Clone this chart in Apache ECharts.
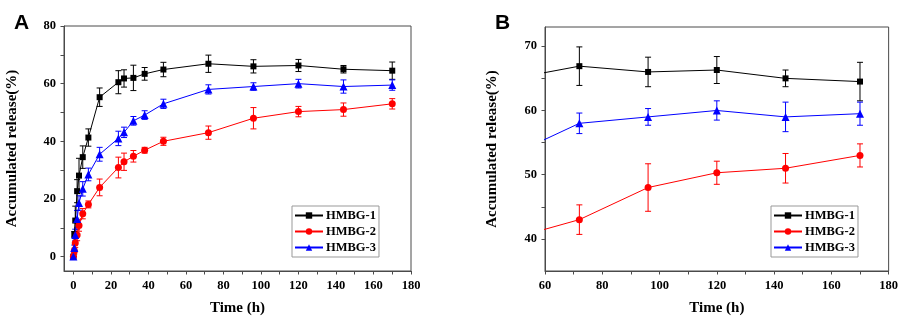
<!DOCTYPE html>
<html>
<head>
<meta charset="utf-8">
<script src="https://cdn.jsdelivr.net/npm/echarts@6/dist/echarts.min.js"></script>
<style>
  html, body { margin: 0; padding: 0; background: #fff; }
  #chart { width: 901px; height: 321px; }
</style>
</head>
<body>
<div id="chart"></div>
<script>
const time = [0, 0.5, 1, 2, 3, 5, 8, 14, 24, 27, 32, 38, 48, 72, 96, 120, 144, 170];
const hmbg1 = [0, 7.7, 12.5, 22.7, 28.1, 34.5, 41.3, 55.3, 60.5, 61.8, 62, 63.4, 64.9, 66.9, 66, 66.3, 65, 64.5];
const hmbg1Err = [0, 1, 5, 4, 6, 3.9, 3, 3.2, 4, 3, 4.4, 2.2, 2.5, 3, 2.3, 2.1, 1.3, 3];
const hmbg2 = [0, 1.9, 4.7, 7.5, 10.8, 14.9, 18.1, 24, 30.9, 32.9, 34.8, 36.9, 40, 43, 48, 50.3, 51, 53];
const hmbg2Err = [0, 1, 1.5, 2, 2, 1.8, 1.2, 2.9, 3.6, 3, 2, 1, 1.4, 2.3, 3.7, 1.8, 2.3, 1.8];
const hmbg3 = [0, 3, 7.5, 13, 18.6, 23.5, 28.5, 35.5, 41, 43.1, 47.1, 49.1, 53, 58, 59, 60, 59, 59.5];
const hmbg3Err = [0, 1, 2, 3, 2.5, 2.5, 2.2, 2.4, 2.5, 1.8, 1.5, 1.5, 1.6, 1.6, 1.3, 1.5, 2.3, 1.8];

const names = ['HMBG-1', 'HMBG-2', 'HMBG-3'];
const colors = ['#000000', '#ff0000', '#0000ff'];
const symbols = ['rect', 'circle', 'triangle'];
const symbolSizes = [6, 7, 8];

// labelled ticks and all tick marks (major + minor)
const xLabelsA = [0, 20, 40, 60, 80, 100, 120, 140, 160, 180];
const xTicksA = [0, 10, 20, 30, 40, 50, 60, 70, 80, 90, 100, 110, 120, 130, 140, 150, 160, 170, 180];
const yLabelsA = [0, 20, 40, 60, 80];
const yTicksA = [0, 10, 20, 30, 40, 50, 60, 70, 80];
const xLabelsB = [60, 80, 100, 120, 140, 160, 180];
const xTicksB = [60, 70, 80, 90, 100, 110, 120, 130, 140, 150, 160, 170, 180];
const yLabelsB = [40, 50, 60, 70];
const yTicksB = [40, 45, 50, 55, 60, 65, 70];

const serif = '"Liberation Serif", "Times New Roman", serif';
const axisColor = '#4a4a4a';

const chart = echarts.init(document.getElementById('chart'));

function axis(grid, pos, min, max, labels, ticks, name, gap) {
  return {
    type: 'value', gridIndex: grid, position: pos, min: min, max: max,
    name: name, nameGap: gap, nameLocation: 'middle',
    nameTextStyle: { color: '#000', fontFamily: serif, fontWeight: 'bold', fontSize: 15 },
    splitLine: { show: false },
    axisLine: { show: true, onZero: false, lineStyle: { color: axisColor, width: 1 } },
    axisTick: { show: true, inside: false, length: 3.5, customValues: ticks, lineStyle: { color: axisColor } },
    axisLabel: { customValues: labels, color: '#000', fontFamily: serif, fontWeight: 'bold', fontSize: 12.5, margin: 8 }
  };
}

const xAxis = [
  axis(0, 'bottom', -5, 180, xLabelsA, xTicksA, 'Time (h)', 30),
  axis(1, 'bottom', 60, 180, xLabelsB, xTicksB, 'Time (h)', 30)
];
const yAxis = [
  axis(0, 'left', -5, 80, yLabelsA, yTicksA, 'Accumulated release(%)', 44),
  axis(1, 'left', 35, 73, yLabelsB, yTicksB, 'Accumulated release(%)', 45)
];

const values = [hmbg1, hmbg2, hmbg3];
const errs = [hmbg1Err, hmbg2Err, hmbg3Err];

function errorBars(idx, data, color) {
  return {
    type: 'custom', xAxisIndex: idx, yAxisIndex: idx, clip: true, z: 3,
    silent: true,
    data: data,
    renderItem: function (params, api) {
      const x = api.value(0), y = api.value(1), e = api.value(2);
      const hi = api.coord([x, y + e]);
      const lo = api.coord([x, y - e]);
      const w = 3;
      const style = { stroke: color, lineWidth: 1 };
      return {
        type: 'group',
        children: [
          { type: 'line', shape: { x1: hi[0], y1: hi[1], x2: lo[0], y2: lo[1] }, style: style },
          { type: 'line', shape: { x1: hi[0] - w, y1: hi[1], x2: hi[0] + w, y2: hi[1] }, style: style },
          { type: 'line', shape: { x1: lo[0] - w, y1: lo[1], x2: lo[0] + w, y2: lo[1] }, style: style }
        ]
      };
    }
  };
}

const series = [];
[0, 1].forEach(function (panel) {
  names.forEach(function (name, k) {
    const pts = [], bars = [];
    time.forEach(function (t, i) {
      // panel B is a zoom from 60 h on; keep the 48 h point so the line enters from the edge
      if (panel === 1 && t < 48) return;
      pts.push([t, values[k][i]]);
      if (panel === 0 || t >= 60) bars.push([t, values[k][i], errs[k][i]]);
    });
    series.push(errorBars(panel, bars, colors[k]));
    series.push({
      name: name, type: 'line', xAxisIndex: panel, yAxisIndex: panel,
      data: pts, clip: true, z: 4,
      symbol: symbols[k], symbolSize: symbolSizes[k],
      itemStyle: { color: colors[k] },
      lineStyle: { color: colors[k], width: 1 },
      emphasis: { disabled: true }
    });
  });
});

function legendAt(left) {
  return {
    left: left, top: 206, orient: 'vertical',
    data: names,
    itemWidth: 28, itemHeight: 8, itemGap: 3,
    padding: [3, 3, 3, 2],
    borderColor: '#999', borderWidth: 1,
    selectedMode: false,
    textStyle: { color: '#000', fontFamily: serif, fontWeight: 'bold', fontSize: 12.5, lineHeight: 13, padding: [0, 0, 0, -2] }
  };
}

chart.setOption({
  animation: false,
  backgroundColor: '#fff',
  title: [
    { text: 'A', left: 9, top: 8, textStyle: { fontFamily: '"Liberation Sans", Arial, sans-serif', fontWeight: 'bold', fontSize: 21, color: '#000' } },
    { text: 'B', left: 490, top: 8, textStyle: { fontFamily: '"Liberation Sans", Arial, sans-serif', fontWeight: 'bold', fontSize: 21, color: '#000' } }
  ],
  legend: [legendAt(292), legendAt(771)],
  grid: [
    { left: 64, right: 490, top: 26, bottom: 40, show: true, borderColor: axisColor, borderWidth: 1, backgroundColor: 'transparent' },
    { left: 545, right: 10, top: 27, bottom: 40, show: true, borderColor: axisColor, borderWidth: 1, backgroundColor: 'transparent' }
  ],
  xAxis: xAxis,
  yAxis: yAxis,
  series: series
});
</script>
</body>
</html>
